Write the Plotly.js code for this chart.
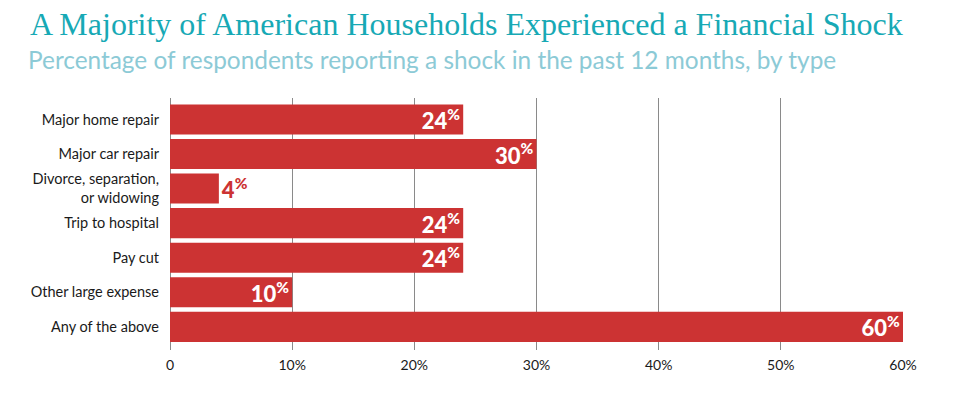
<!DOCTYPE html>
<html>
<head>
<meta charset="utf-8">
<script src="https://cdn.plot.ly/plotly-3.0.1.min.js"></script>
<style>
  html, body { margin: 0; padding: 0; background: #ffffff; }
  #chart { width: 967px; height: 394px; }
</style>
</head>
<body>
<div id="chart"></div>
<script>
const categories = [
  "Major home repair",
  "Major car repair",
  "Divorce, separation,<br>or widowing",
  "Trip to hospital",
  "Pay cut",
  "Other large expense",
  "Any of the above"
];
const values = [24, 30, 4, 24, 24, 10, 60];
const labelPositions = ["inside", "inside", "outside", "inside", "inside", "inside", "inside"];
const tickValues = [0, 10, 20, 30, 40, 50, 60];
const tickLabels = ["0", "10%", "20%", "30%", "40%", "50%", "60%"];
const titleText = "A Majority of American Households Experienced a Financial Shock";
const subtitleText = "Percentage of respondents reporting a shock in the past 12 months, by type";

const barColor = "#cc3333";

const trace = {
  type: "bar",
  orientation: "h",
  y: categories,
  x: values,
  marker: { color: barColor },
  text: values.map(v => v + "<sup>%</sup>"),
  textposition: labelPositions,
  insidetextanchor: "end",
  constraintext: "none",
  cliponaxis: false,
  insidetextfont: { family: "Lato", size: 22, color: "#ffffff", weight: 900 },
  outsidetextfont: { family: "Lato", size: 22, color: barColor, weight: 900 },
  hoverinfo: "none"
};

const layout = {
  width: 967,
  height: 394,
  margin: { l: 170, r: 64, t: 98, b: 44 },
  paper_bgcolor: "#ffffff",
  plot_bgcolor: "#ffffff",
  bargap: 0.13,
  showlegend: false,
  font: { family: "Lato", color: "#1a1a1a", size: 14 },
  xaxis: {
    range: [0, 60],
    tickmode: "array",
    tickvals: tickValues,
    ticktext: tickLabels,
    showgrid: true,
    gridcolor: "#8a8a8a",
    gridwidth: 1,
    zeroline: true,
    zerolinecolor: "#8a8a8a",
    zerolinewidth: 1,
    showline: false,
    ticks: "",
    ticklabelstandoff: 5,
    tickfont: { family: "Lato", size: 14, color: "#1a1a1a" },
    fixedrange: true
  },
  yaxis: {
    type: "category",
    categoryorder: "array",
    categoryarray: categories,
    range: [6.67, -0.62],
    showgrid: false,
    zeroline: false,
    showline: false,
    ticks: "",
    ticklabelstandoff: 10,
    tickfont: { family: "Lato", size: 14.5, color: "#1a1a1a" },
    fixedrange: true
  },
  annotations: [
    {
      text: titleText,
      xref: "paper", yref: "paper",
      x: (28 - 170) / 733, xanchor: "left",
      y: (350 - 24) / 252, yanchor: "middle",
      showarrow: false,
      font: { family: "Liberation Serif", size: 32, color: "#17a9b5" }
    },
    {
      text: subtitleText,
      xref: "paper", yref: "paper",
      x: (26 - 170) / 733, xanchor: "left",
      y: (350 - 59) / 252, yanchor: "middle",
      showarrow: false,
      font: { family: "Lato", size: 24.4, color: "#8ccad6" }
    }
  ]
};

Plotly.newPlot("chart", [trace], layout, { displayModeBar: false, staticPlot: true });
</script>
</body>
</html>
